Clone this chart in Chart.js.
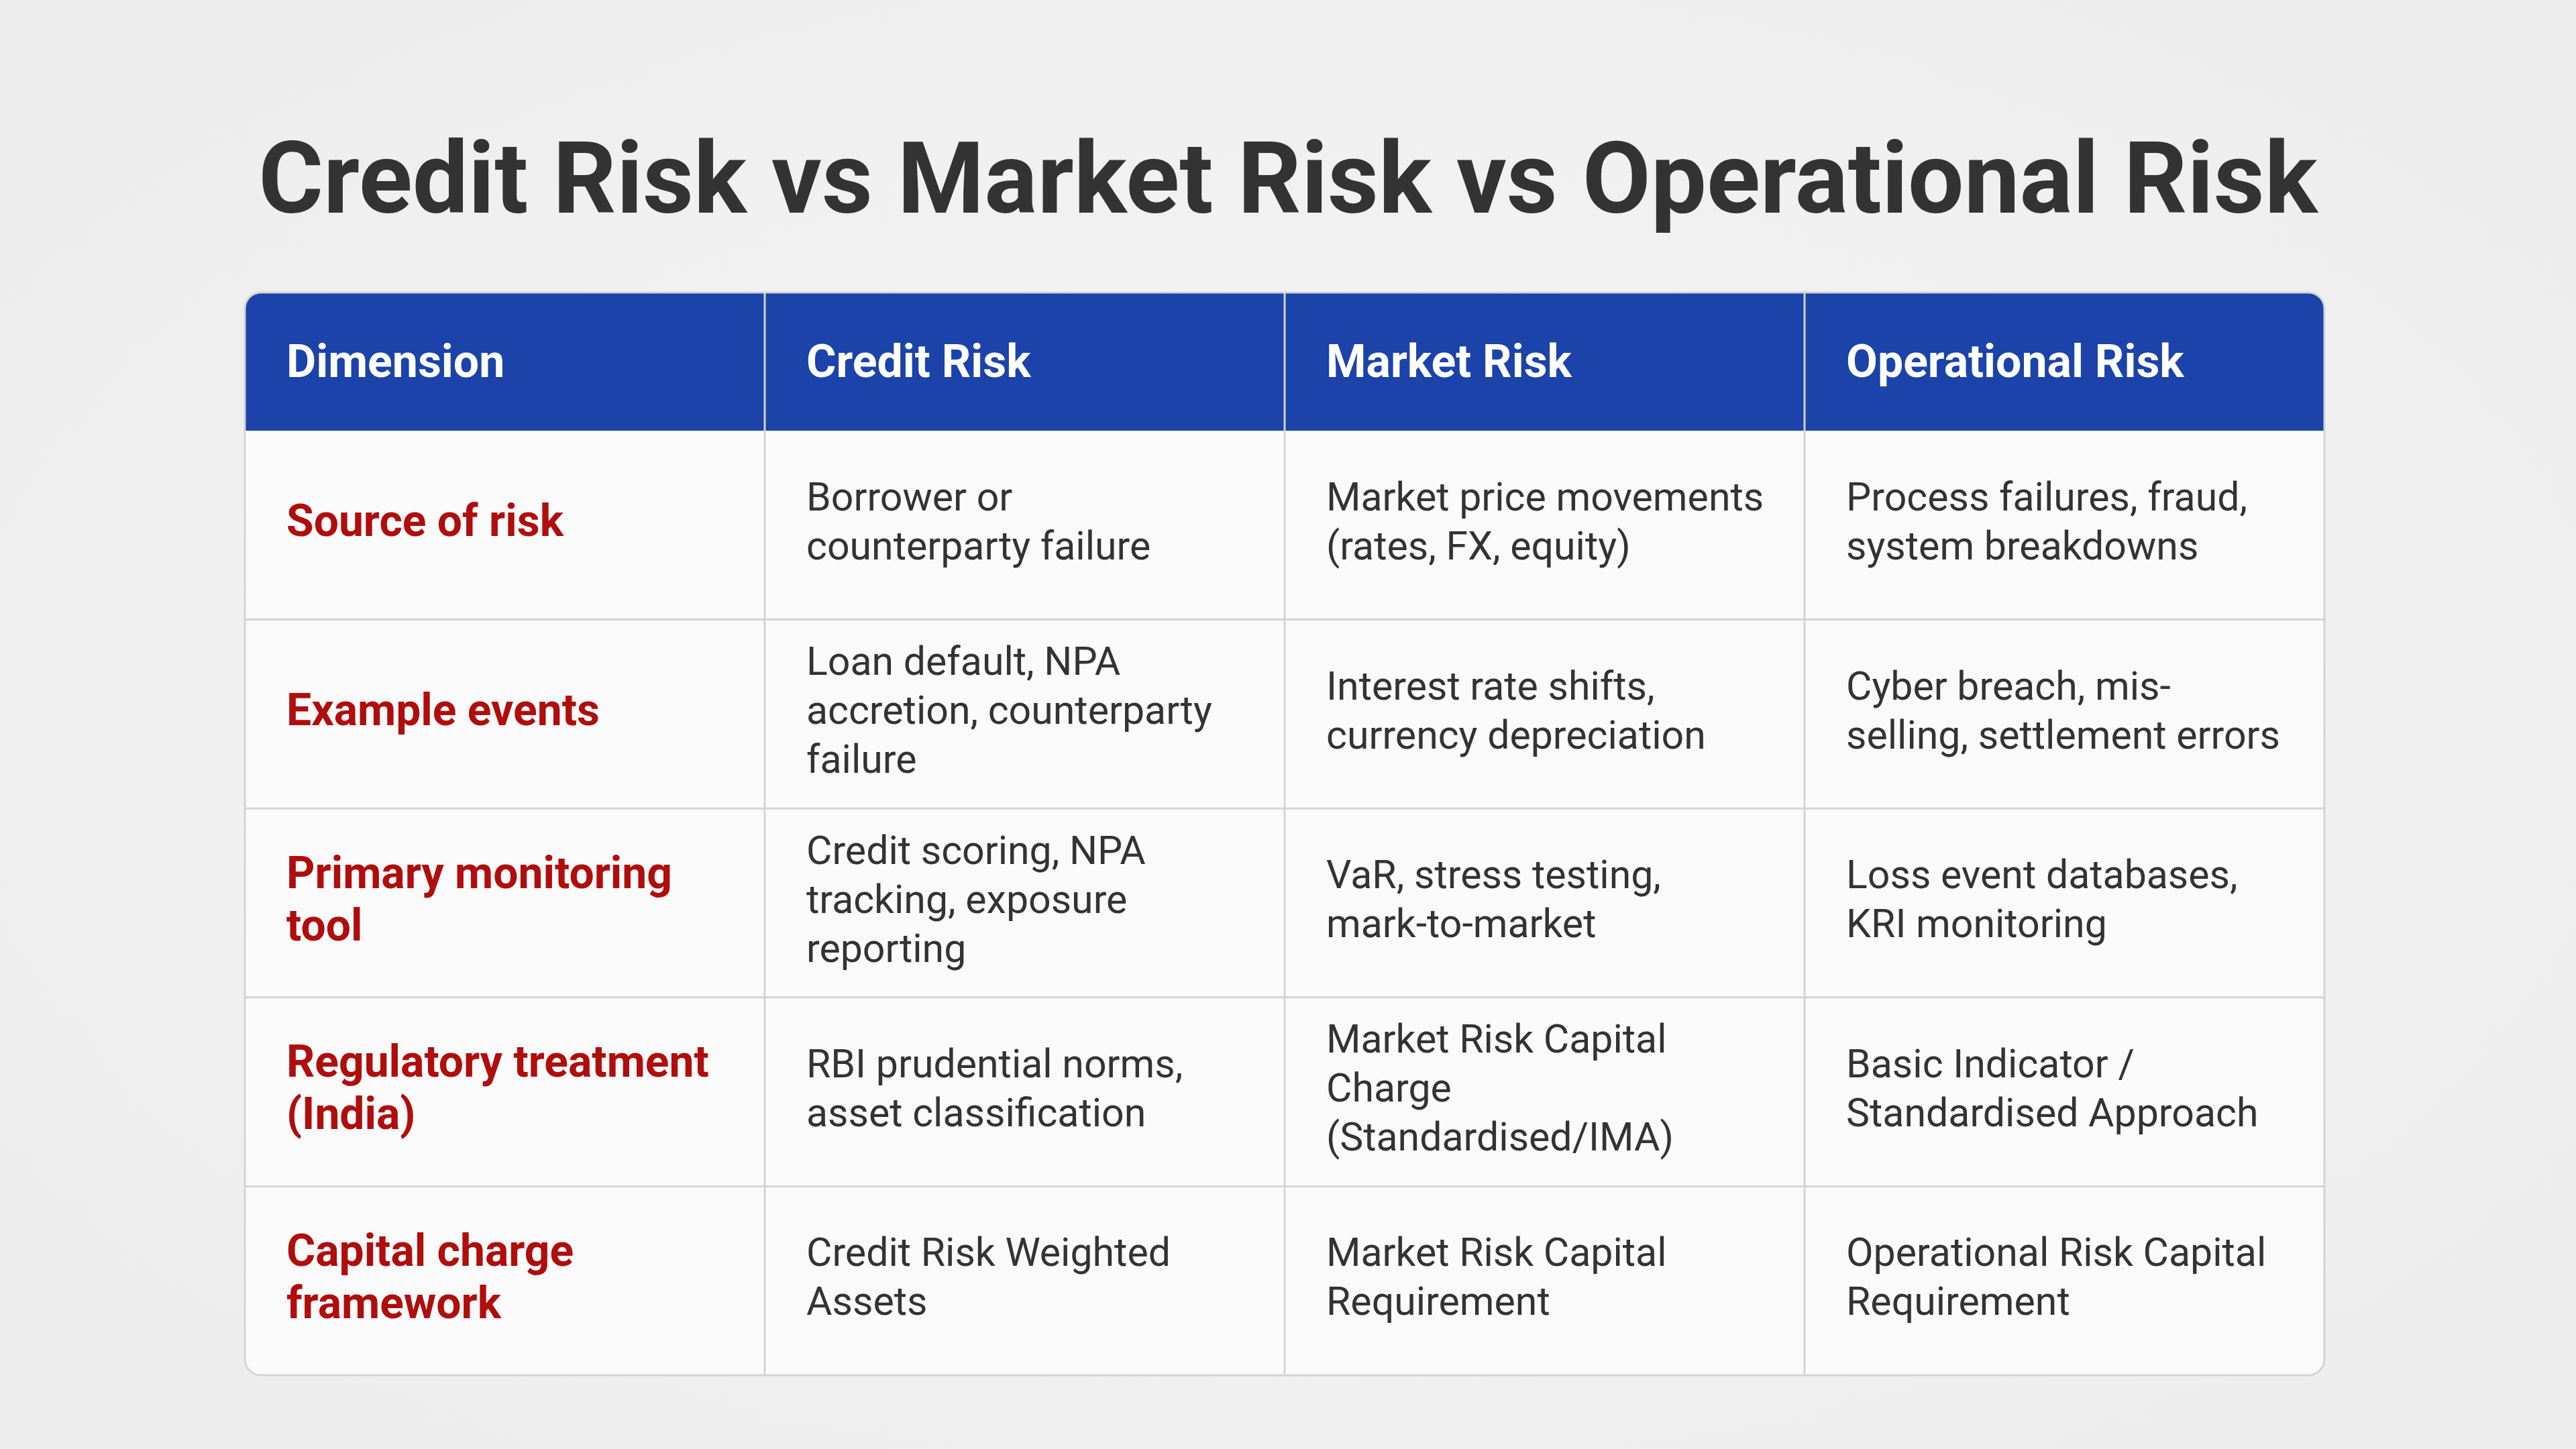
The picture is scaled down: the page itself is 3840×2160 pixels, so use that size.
<!DOCTYPE html>
<html>
<head>
<meta charset="utf-8">
<style>
  html, body { margin: 0; padding: 0; background: #efefef; }
  #wrap { width: 3840px; height: 2160px; position: relative; background: radial-gradient(ellipse at center, #f6f6f6 0%, #ececec 100%); }
  #title { position: absolute; top: 180px; left: 0; width: 3840px; text-align: center; font-family: Roboto, "Noto Sans", sans-serif; font-weight: 700; font-size: 148px; color: #333; letter-spacing: 0px; }
  canvas { position: absolute; left: 0; top: 0; }
</style>
<script src="https://cdn.jsdelivr.net/npm/chart.js@4/dist/chart.umd.min.js"></script>
</head>
<body>
<div id="wrap">
  <div id="title">Credit Risk vs Market Risk vs Operational Risk</div>
  <canvas id="myChart" width="3840" height="2160"></canvas>
</div>
<script>
var columns = ['Dimension', 'Credit Risk', 'Market Risk', 'Operational Risk'];
var dimensions = [
    ['Source of risk'],
    ['Example events'],
    ['Primary monitoring', 'tool'],
    ['Regulatory treatment', '(India)'],
    ['Capital charge', 'framework']
];
var creditRisk = [
    ['Borrower or', 'counterparty failure'],
    ['Loan default, NPA', 'accretion, counterparty', 'failure'],
    ['Credit scoring, NPA', 'tracking, exposure', 'reporting'],
    ['RBI prudential norms,', 'asset classification'],
    ['Credit Risk Weighted', 'Assets']
];
var marketRisk = [
    ['Market price movements', '(rates, FX, equity)'],
    ['Interest rate shifts,', 'currency depreciation'],
    ['VaR, stress testing,', 'mark-to-market'],
    ['Market Risk Capital', 'Charge', '(Standardised/IMA)'],
    ['Market Risk Capital', 'Requirement']
];
var operationalRisk = [
    ['Process failures, fraud,', 'system breakdowns'],
    ['Cyber breach, mis-', 'selling, settlement errors'],
    ['Loss event databases,', 'KRI monitoring'],
    ['Basic Indicator /', 'Standardised Approach'],
    ['Operational Risk Capital', 'Requirement']
];

var rowKeys = dimensions.map(function (d) { return d.join(' '); });
var cellColumns = [dimensions, creditRisk, marketRisk, operationalRisk];

var HEADER_H = 206;
var FONT = 'Roboto, "Noto Sans", sans-serif';

function roundRect(ctx, x, y, w, h, r)
{
    ctx.beginPath();
    ctx.moveTo(x + r, y);
    ctx.lineTo(x + w - r, y);
    ctx.arcTo(x + w, y, x + w, y + r, r);
    ctx.lineTo(x + w, y + h - r);
    ctx.arcTo(x + w, y + h, x + w - r, y + h, r);
    ctx.lineTo(x + r, y + h);
    ctx.arcTo(x, y + h, x, y + h - r, r);
    ctx.lineTo(x, y + r);
    ctx.arcTo(x, y, x + r, y, r);
    ctx.closePath();
}

var tablePlugin = {
    id: 'tablePlugin',
    afterDraw: function (chart) {
        var ctx = chart.ctx;
        var area = chart.chartArea;
        var xs = chart.scales.x;
        var ys = chart.scales.y;
        var colW = area.width / columns.length;
        var rowH = area.height / rowKeys.length;
        var left = area.left, right = area.right;
        var top = area.top - HEADER_H, bottom = area.bottom;

        ctx.save();
        roundRect(ctx, left, top, right - left, bottom - top, 24);
        ctx.fillStyle = '#fafafa';
        ctx.fill();
        ctx.save();
        ctx.clip();
        ctx.fillStyle = '#1b43a9';
        ctx.fillRect(left, top, right - left, HEADER_H);
        ctx.restore();

        ctx.strokeStyle = '#d4d4d4';
        ctx.lineWidth = 3;
        for (var i = 1; i < columns.length; i++) {
            var gx = xs.getPixelForValue(i) - colW / 2;
            ctx.beginPath();
            ctx.moveTo(gx, top);
            ctx.lineTo(gx, bottom);
            ctx.stroke();
        }
        for (var j = 1; j < rowKeys.length; j++) {
            var gy = ys.getPixelForValue(j) - rowH / 2;
            ctx.beginPath();
            ctx.moveTo(left, gy);
            ctx.lineTo(right, gy);
            ctx.stroke();
        }
        roundRect(ctx, left, top, right - left, bottom - top, 24);
        ctx.stroke();

        ctx.textBaseline = 'middle';
        ctx.textAlign = 'left';
        ctx.fillStyle = '#ffffff';
        ctx.font = '700 68px ' + FONT;
        columns.forEach(function (c, i) {
            var x0 = xs.getPixelForValue(i) - colW / 2;
            ctx.fillText(c, x0 + 62, top + HEADER_H / 2 + 6);
        });

        var lh = 73;
        cellColumns.forEach(function (col, i) {
            var x0 = xs.getPixelForValue(i) - colW / 2;
            col.forEach(function (lines, j) {
                var cy = ys.getPixelForValue(j);
                if (i === 0) {
                    ctx.fillStyle = '#b00d0d';
                    ctx.font = '700 66px ' + FONT;
                    lh = 78;
                } else {
                    ctx.fillStyle = '#333333';
                    ctx.font = '400 59px ' + FONT;
                    lh = 73;
                }
                var y0 = cy - (lines.length - 1) * lh / 2;
                lines.forEach(function (t, k) {
                    ctx.fillText(t, x0 + 62, y0 + k * lh);
                });
            });
        });
        ctx.restore();
    }
};

var ctx = document.getElementById('myChart').getContext('2d');
var myChart = new Chart(ctx, {
    type: 'bar',
    data: {
        labels: columns,
        datasets: [{ data: [] }]
    },
    options: {
        responsive: false,
        animation: false,
        events: [],
        layout: { padding: { left: 365, right: 375, top: 436 + HEADER_H, bottom: 110 } },
        plugins: { legend: { display: false }, tooltip: { enabled: false } },
        scales: {
            x: { type: 'category', labels: columns, display: false, offset: true },
            y: { type: 'category', labels: rowKeys, display: false, offset: true }
        }
    },
    plugins: [tablePlugin]
});
</script>
</body>
</html>
